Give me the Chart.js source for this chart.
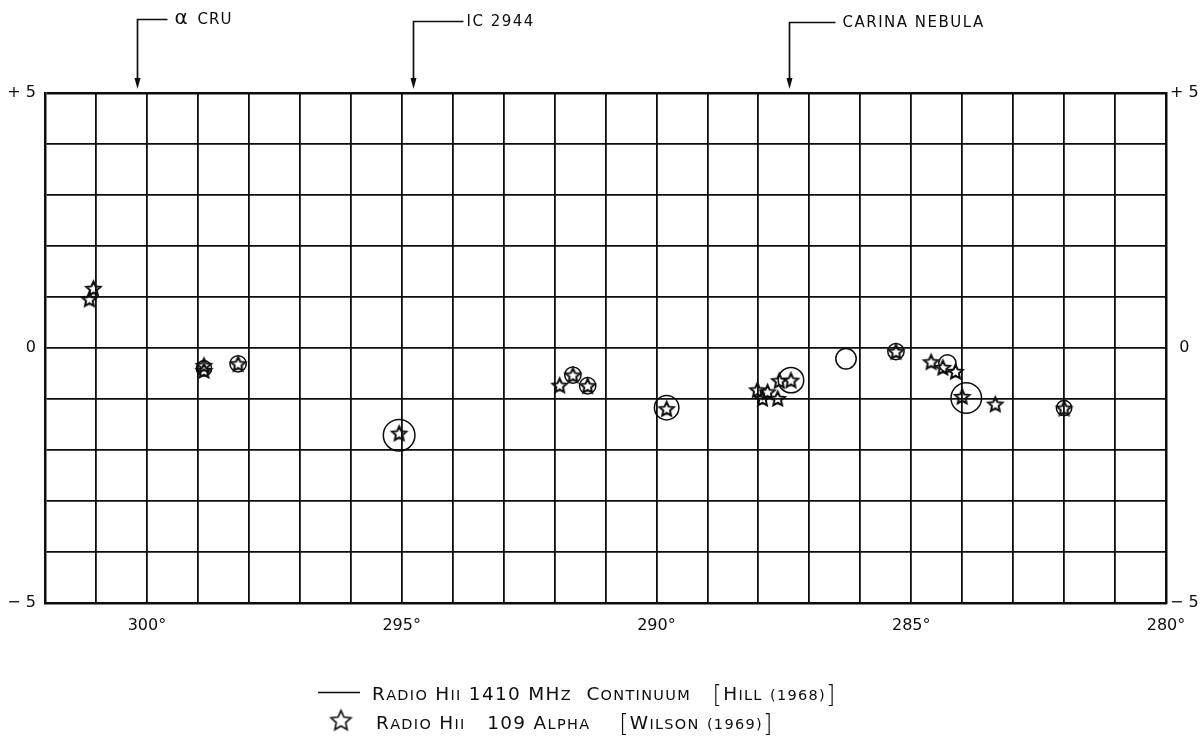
<!DOCTYPE html>
<html><head><meta charset="utf-8">
<script src="https://cdn.jsdelivr.net/npm/chart.js@4/dist/chart.umd.min.js"></script>
<style>html,body{margin:0;padding:0;background:#fff;overflow:hidden}</style>
</head><body>
<canvas id="c" width="1200" height="749"></canvas>
<script>
const FONT = '"DejaVu Sans", sans-serif';
const INK = '#0d0d0d';

// ---- data ----
const lonTicks = [300, 295, 290, 285, 280];
const latTicks = [5, 0, -5];

// Wilson (1969) H109 alpha recombination-line sources (stars)
const starLon = [301.05, 301.13, 298.88, 298.88, 298.21, 295.05, 291.90, 291.64, 291.35, 289.80, 288.02, 287.92, 287.82, 287.62, 287.59, 287.36, 285.30, 284.61, 284.38, 284.13, 284.00, 283.35, 282.00];
const starLat = [1.17, 0.96, -0.34, -0.44, -0.31, -1.67, -0.73, -0.53, -0.74, -1.19, -0.82, -0.99, -0.86, -0.99, -0.64, -0.63, -0.07, -0.27, -0.38, -0.46, -0.95, -1.10, -1.18];

// Hill (1968) 1410 MHz continuum sources (circles), radius in degrees
const hillLon = [298.88, 298.21, 295.05, 291.64, 291.35, 289.80, 287.36, 286.28, 285.30, 284.29, 283.92, 282.00];
const hillLat = [-0.40, -0.31, -1.71, -0.53, -0.74, -1.17, -0.63, -0.21, -0.07, -0.30, -0.98, -1.18];
const hillRadiusDeg = [0.15, 0.16, 0.31, 0.16, 0.16, 0.24, 0.25, 0.20, 0.16, 0.17, 0.30, 0.15];

const objectNames = ['α', 'IC 2944', 'CARINA NEBULA'];
const objectLon = [300.2, 294.77, 287.4];

const legendLabels = ['Radio Hii 1410 MHz  Continuum   [Hill {(1968)}]', 'Radio Hii   109 Alpha    [Wilson {(1969)}]'];

// ---- helpers ----
function makeStar(R, lw) {
  const s = Math.ceil(2 * R + lw * 2 + 4);
  const c = document.createElement('canvas');
  c.width = s; c.height = s;
  const g = c.getContext('2d');
  g.translate(s / 2, s / 2 + R * 0.1);
  g.beginPath();
  for (let i = 0; i < 10; i++) {
    const r = i % 2 === 0 ? R : R * 0.47;
    const a = -Math.PI / 2 + i * Math.PI / 5;
    g.lineTo(r * Math.cos(a), r * Math.sin(a));
  }
  g.closePath();
  g.lineWidth = lw; g.lineJoin = 'miter'; g.strokeStyle = INK; g.stroke();
  return c;
}
const starImg = makeStar(7.5, 2.0);
const legendStar = makeStar(10.5, 1.6);

function pxPerDeg(chart) {
  const x = chart.scales.x;
  return Math.abs(x.getPixelForValue(281) - x.getPixelForValue(280));
}
function hillRadius(ctx) {
  return hillRadiusDeg[ctx.dataIndex] * pxPerDeg(ctx.chart);
}

function drawSmallCaps(g, str, x, y, big, small, spacing) {
  let inSmall = false;
  for (const ch of str) {
    if (ch === '{') { inSmall = true; continue; }
    if (ch === '}') { inSmall = false; continue; }
    let size = big, t = ch, yy = y;
    if (ch === '[' || ch === ']') { size = big * 1.3; yy = y + big * 0.16; g.font = `300 ${size}px ${FONT}`; }
    else if (inSmall || (ch >= 'a' && ch <= 'z')) { size = small; t = ch.toUpperCase(); g.font = `${size}px ${FONT}`; }
    else g.font = `${size}px ${FONT}`;
    g.fillText(t, x, yy);
    x += g.measureText(t).width + spacing;
  }
  return x;
}

const annotPlugin = {
  id: 'annot',
  afterDraw(chart) {
    const g = chart.ctx, xs = chart.scales.x;
    const tops = [19.5, 21.5, 22.5];
    const lens = [30, 50, 46];
    const gaps = [7, 3, 7];
    g.save();
    g.strokeStyle = INK; g.fillStyle = INK; g.lineWidth = 1.7;
    objectNames.forEach((name, i) => {
      const px = Math.round(xs.getPixelForValue(objectLon[i])) + 0.5;
      const top = tops[i];
      g.beginPath();
      g.moveTo(px + lens[i], top); g.lineTo(px, top); g.lineTo(px, 80);
      g.stroke();
      g.beginPath();
      g.moveTo(px - 3, 78); g.lineTo(px + 3, 78); g.lineTo(px, 89); g.closePath(); g.fill();
      g.textBaseline = 'middle'; g.textAlign = 'left';
      const tx = px + lens[i] + gaps[i];
      if (i === 0) {
        g.font = `20px ${FONT}`;
        g.fillText('α', tx, top - 1);
        g.font = `15px ${FONT}`;
        g.letterSpacing = '1px';
        g.fillText('CRU', tx + 23, top + 1);
      } else {
        g.font = `15px ${FONT}`;
        g.letterSpacing = '1.5px';
        g.fillText(name, tx, top + 1);
      }
      g.letterSpacing = '0px';
    });
    g.restore();
  }
};

const legendPlugin = {
  id: 'customLegend',
  afterDraw(chart) {
    const g = chart.ctx;
    g.save();
    g.fillStyle = INK; g.strokeStyle = INK; g.lineWidth = 1.6;
    g.textBaseline = 'alphabetic'; g.textAlign = 'left';
    g.beginPath(); g.moveTo(318, 692.5); g.lineTo(360, 692.5); g.stroke();
    drawSmallCaps(g, legendLabels[0], 372, 700, 18.5, 14.5, 1.3);
    g.drawImage(legendStar, 341 - legendStar.width / 2, 720 - legendStar.height / 2);
    drawSmallCaps(g, legendLabels[1], 376, 729, 18.5, 14.5, 1.3);
    g.restore();
  }
};

const yLabel = v => latTicks.includes(v) ? (v > 0 ? '+ ' + v : (v < 0 ? '− ' + Math.abs(v) : '0')) : '';

new Chart(document.getElementById('c'), {
  type: 'scatter',
  data: {
    datasets: [
      {
        label: 'Radio HII 1410 MHz Continuum [Hill (1968)]',
        data: hillLon.map((x, i) => ({ x, y: hillLat[i] })),
        pointStyle: 'circle',
        backgroundColor: 'rgba(0,0,0,0)',
        borderColor: INK,
        borderWidth: 1.5,
        pointRadius: hillRadius,
        pointHoverRadius: hillRadius
      },
      {
        label: 'Radio HII 109 Alpha [Wilson (1969)]',
        data: starLon.map((x, i) => ({ x, y: starLat[i] })),
        pointStyle: starImg,
        pointRadius: 8
      }
    ]
  },
  options: {
    responsive: false,
    animation: false,
    events: [],
    layout: { padding: { top: 93, left: 0, right: 0, bottom: 0 } },
    plugins: { legend: { display: false }, tooltip: { enabled: false } },
    scales: {
      x: {
        type: 'linear', min: 280, max: 302, reverse: true, position: 'bottom',
        ticks: {
          stepSize: 1, autoSkip: false, maxRotation: 0, padding: 13,
          font: { family: FONT, size: 16 }, color: INK,
          callback: v => lonTicks.includes(v) ? v + '°' : ''
        },
        grid: { color: INK, lineWidth: 1.8, drawTicks: false },
        border: { display: true, color: INK, width: 2.5 },
        afterFit: s => { s.height = 146; }
      },
      y: {
        min: -5, max: 5, position: 'left',
        ticks: { stepSize: 1, padding: 9, font: { family: FONT, size: 16 }, color: INK, callback: yLabel },
        grid: { color: INK, lineWidth: c => (c.tick && c.tick.value === 5) ? 2.5 : 1.8, drawTicks: false },
        border: { display: true, color: INK, width: 2.5 },
        afterFit: s => { s.width = 45; }
      },
      y2: {
        min: -5, max: 5, position: 'right',
        ticks: { stepSize: 1, padding: 4, crossAlign: 'center', font: { family: FONT, size: 16 }, color: INK, callback: yLabel },
        grid: { display: false, drawTicks: false },
        border: { display: true, color: INK, width: 2.5 },
        afterFit: s => { s.width = 34; }
      }
    }
  },
  plugins: [annotPlugin, legendPlugin]
});
</script>
</body></html>
